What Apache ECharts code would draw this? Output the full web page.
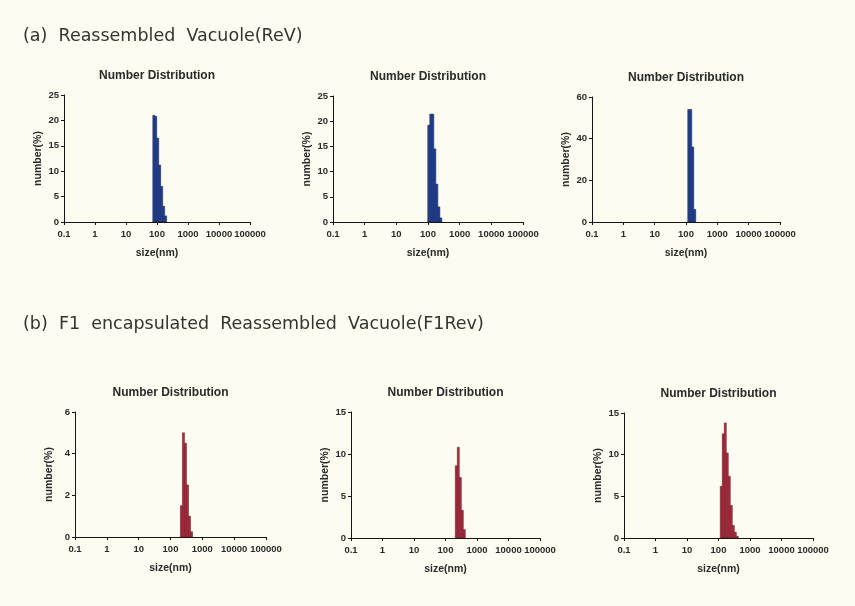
<!DOCTYPE html>
<html><head><meta charset="utf-8">
<script src="https://cdn.jsdelivr.net/npm/echarts@6/dist/echarts.min.js"></script>
<style>html,body{margin:0;padding:0;background:#fcfcf1}#c{width:855px;height:606px}</style>
</head><body><div id="c"></div>
<script>
// ---- data ----
const xTickLabels = ['0.1','1','10','100','1000','10000','100000'];
const headingA = '(a)  Reassembled  Vacuole(ReV)';
const headingB = '(b)  F1  encapsulated  Reassembled  Vacuole(F1Rev)';
const panelTitle = 'Number Distribution';
const xName = 'size(nm)';
const yName = 'number(%)';

const a1Sizes = [78.82, 91.28, 105.7, 122.4, 141.8, 164.2, 190.1];
const a1Values = [21, 20.8, 16.5, 11.2, 7, 3.1, 1.2];
const a2Sizes = [105.7, 122.4, 141.8, 164.2, 190.1, 220.2, 255.0];
const a2Values = [19.2, 21.4, 21.4, 14.5, 7.5, 3.0, 0.8];
const a3Sizes = [122.4, 141.8, 164.2, 190.1];
const a3Values = [54, 54, 36, 6];
const b1Sizes = [220.2, 255.0, 295.3, 342.0, 396.1, 458.7];
const b1Values = [1.5, 5.0, 4.5, 2.5, 1.0, 0.25];
const b2Sizes = [220.2, 255.0, 295.3, 342.0, 396.1];
const b2Values = [8.6, 10.8, 7.2, 3.3, 1.0];
const b3Sizes = [122.4, 141.8, 164.2, 190.1, 220.2, 255.0, 295.3, 342.0, 396.1];
const b3Values = [6.2, 12.5, 13.8, 10.2, 7.4, 3.9, 1.5, 0.7, 0.2];

const yMaxes = [25, 25, 60, 6, 15, 15];
const yIntervals = [5, 5, 20, 2, 5, 5];

// ---- layout ----
const grids = [
  {left: 64, top: 95, width: 186, height: 127},
  {left: 333, top: 96, width: 190, height: 126},
  {left: 592, top: 97, width: 188, height: 125},
  {left: 75, top: 412, width: 191, height: 125},
  {left: 351, top: 412, width: 189, height: 126},
  {left: 624, top: 413, width: 189, height: 125}
];
const panels = [
  [a1Sizes, a1Values, 'blue'], [a2Sizes, a2Values, 'blue'], [a3Sizes, a3Values, 'blue'],
  [b1Sizes, b1Values, 'red'], [b2Sizes, b2Values, 'red'], [b3Sizes, b3Values, 'red']
];
const palette = {
  blue: {fill: '#1f42a0', stroke: '#121c40'},
  red: {fill: '#b8283e', stroke: '#4a161e'}
};
const binRatio = Math.pow(10, 0.0319); // half bin width in log space

const axisColor = '#151515';
const labelFont = {fontSize: 9.5, fontWeight: 'bold', color: '#2a2a2a', fontFamily: 'Liberation Sans'};

const xAxes = [], yAxes = [], series = [], graphics = [];
grids.forEach((g, i) => {
  xAxes.push({
    type: 'log', logBase: 10, min: 0.1, max: 100000, gridIndex: i,
    name: xName, nameLocation: 'middle', nameGap: 26,
    nameTextStyle: {fontSize: 10.5, fontWeight: 'bold', color: '#2a2a2a', fontFamily: 'Liberation Sans'},
    axisLine: {show: true, lineStyle: {color: axisColor, width: 1}},
    axisTick: {show: true, length: 3, lineStyle: {color: axisColor, width: 1}},
    minorTick: {show: false}, splitLine: {show: false},
    axisLabel: Object.assign({margin: 7, showMinLabel: true, showMaxLabel: true, hideOverlap: false,
      formatter: v => {
        const e = Math.round(Math.log10(v));
        return xTickLabels[e + 1] !== undefined ? xTickLabels[e + 1] : String(v);
      }}, labelFont)
  });
  yAxes.push({
    type: 'value', min: 0, max: yMaxes[i], interval: yIntervals[i], gridIndex: i,
    name: yName, nameLocation: 'middle', nameGap: 20, nameRotate: 90,
    nameTextStyle: {fontSize: 10.5, fontWeight: 'bold', color: '#2a2a2a', fontFamily: 'Liberation Sans'},
    axisLine: {show: true, lineStyle: {color: axisColor, width: 1}},
    axisTick: {show: true, length: 3, lineStyle: {color: axisColor, width: 1}},
    splitLine: {show: false},
    axisLabel: Object.assign({margin: 5}, labelFont)
  });
  const [sizes, values, col] = panels[i];
  const c = palette[col];
  series.push({
    type: 'custom', xAxisIndex: i, yAxisIndex: i,
    data: sizes.map((s, k) => [s, values[k]]),
    renderItem: (params, api) => {
      const s = api.value(0), v = api.value(1);
      const p0 = api.coord([s / binRatio, v]);
      const p1 = api.coord([s * binRatio, 0]);
      return {type: 'rect',
        shape: {x: p0[0], y: p0[1], width: p1[0] - p0[0], height: p1[1] - p0[1]},
        style: {fill: c.fill, stroke: c.stroke, lineWidth: 0.5}};
    }
  });
  graphics.push({type: 'text', x: g.left + g.width / 2, y: g.top - 19,
    style: {text: panelTitle, fill: '#2a2a2a', font: 'bold 12px "Liberation Sans"',
      align: 'center', verticalAlign: 'middle', textAlign: 'center', textVerticalAlign: 'middle'}});
});
graphics.push({type: 'text', x: 23, y: 36,
  style: {text: headingA, fill: '#333', font: '17.5px "DejaVu Sans"', align: 'left', verticalAlign: 'middle', textVerticalAlign: 'middle'}});
graphics.push({type: 'text', x: 23, y: 324,
  style: {text: headingB, fill: '#333', font: '17.5px "DejaVu Sans"', align: 'left', verticalAlign: 'middle', textVerticalAlign: 'middle'}});

const chart = echarts.init(document.getElementById('c'));
chart.setOption({
  backgroundColor: '#fcfcf1',
  animation: false,
  grid: grids,
  xAxis: xAxes,
  yAxis: yAxes,
  series: series,
  graphic: graphics
});
</script></body></html>
